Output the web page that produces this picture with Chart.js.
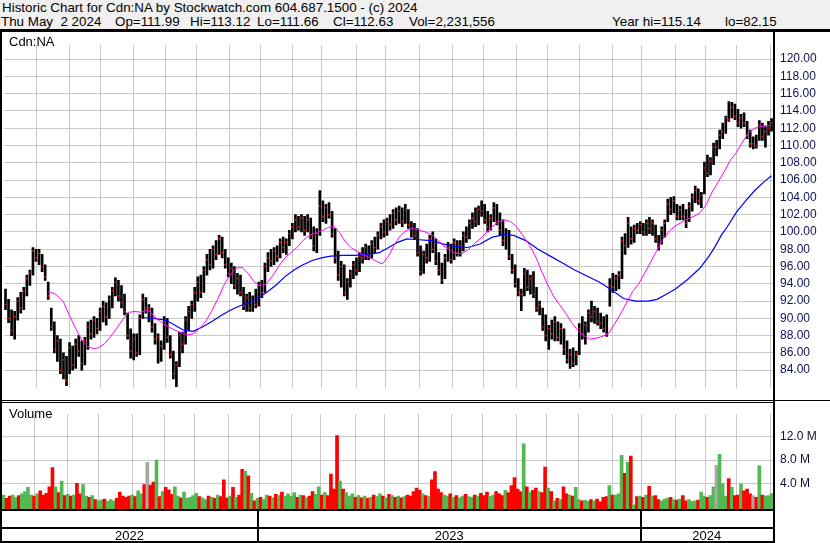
<!DOCTYPE html>
<html>
<head>
<meta charset="utf-8">
<script src="https://cdn.jsdelivr.net/npm/chart.js@4.4.1/dist/chart.umd.min.js"></script>
<style>
body { margin: 0; width: 830px; height: 543px; background: #fff; overflow: hidden; position: relative; font-family: "Liberation Sans", Arial, sans-serif; }
#hdr { position: absolute; left: 0; top: 0; width: 830px; height: 29px; background: #f0f0f0; color: #000; font-size: 13.3px; line-height: 15px; white-space: pre; }
#hdr span { position: absolute; }
#rule { position: absolute; left: 0; top: 29px; width: 830px; height: 3px; background: #000; }
#pc { position: absolute; left: 0; top: 32px; }
#vc { position: absolute; left: 0; top: 401px; }
</style>
</head>
<body>
<div id="hdr">
  <span id="title" style="left:2px;top:0px">Historic Chart for Cdn:NA by Stockwatch.com 604.687.1500 - (c) 2024</span>
  <span style="left:1px;top:14px">Thu May  2 2024</span>
  <span style="left:115px;top:14px">Op=111.99</span>
  <span style="left:190px;top:14px">Hi=113.12</span>
  <span style="left:257px;top:14px">Lo=111.66</span>
  <span style="left:333px;top:14px">Cl=112.63</span>
  <span style="left:409px;top:14px">Vol=2,231,556</span>
  <span style="left:612px;top:14px">Year hi=115.14</span>
  <span style="left:725px;top:14px">lo=82.15</span>
</div>
<div id="rule"></div>
<canvas id="pc" width="830" height="369"></canvas>
<canvas id="vc" width="830" height="142"></canvas>
<script>
// one bar = two trading days, bar i sits on trading day 2*i+1 (day 0 = May 2 2022)
const high = [
  93.4,92.2,91.0,90.8,92.4,93.0,93.6,95.0,95.6,98.2,
  98.0,98.0,97.4,96.2,94.2,91.2,89.6,88.0,87.6,86.0,
  85.6,87.2,86.8,87.6,88.0,87.4,87.8,89.6,89.8,90.2,
  90.0,91.2,92.0,91.8,92.6,93.6,94.7,94.4,93.8,92.8,
  90.6,88.8,88.2,88.2,90.4,92.8,92.4,91.6,91.2,89.4,
  88.2,87.4,90.2,90.0,88.0,86.2,85.0,88.4,88.4,90.2,
  91.4,92.0,93.6,94.8,95.0,96.0,97.4,98.0,98.4,99.0,
  99.6,99.4,98.0,97.0,96.4,96.0,95.2,95.0,93.6,92.8,
  93.0,92.6,93.4,94.2,94.4,96.4,97.6,98.0,98.2,98.4,
  99.2,99.4,99.2,100.2,101.0,102.0,101.8,102.0,101.8,102.0,
  101.6,100.6,100.4,104.8,103.6,103.2,103.4,102.4,100.4,97.8,
  96.6,96.2,94.6,95.6,96.6,97.0,97.6,98.2,98.6,98.4,
  99.0,99.4,100.0,101.0,101.4,101.6,102.0,102.6,102.8,103.0,
  102.8,103.2,102.6,101.2,101.0,100.4,98.4,97.8,98.6,99.6,
  100.0,99.2,97.6,96.4,97.4,98.8,98.6,99.2,99.0,99.0,
  100.0,100.6,101.4,102.2,102.8,103.0,103.6,103.2,102.4,102.0,
  103.4,103.2,102.2,101.4,100.4,100.2,97.4,96.2,94.6,93.4,
  95.8,95.6,95.0,95.4,93.6,92.0,91.2,90.4,89.2,89.8,
  90.2,89.6,89.4,88.8,87.4,86.4,86.6,86.2,89.4,90.2,
  89.6,91.0,92.0,91.4,91.2,90.6,90.2,90.4,94.6,95.2,
  95.0,95.4,99.4,99.8,101.7,100.6,100.8,101.0,101.2,101.0,
  101.4,101.7,101.4,100.8,99.6,100.6,101.4,103.8,104.0,104.1,
  103.2,103.0,103.2,102.6,103.4,104.4,105.3,105.0,104.6,108.1,
  108.9,108.6,110.3,110.6,111.8,112.6,113.4,115.1,115.0,114.8,
  114.2,113.6,113.8,112.8,111.8,111.0,111.2,112.9,112.6,112.2,112.8,113.12
];
const low = [
  91.0,89.5,88.0,87.6,89.8,90.6,91.0,92.6,93.8,95.0,
  96.6,96.2,95.4,94.4,92.2,88.6,86.0,85.0,83.6,83.0,
  82.2,83.6,84.0,84.2,85.6,84.0,84.6,86.4,87.6,87.8,
  88.2,88.6,89.6,89.2,90.0,91.2,92.6,92.0,91.2,90.4,
  87.6,85.4,85.2,85.6,85.8,90.0,90.6,89.6,88.4,87.0,
  84.8,85.0,86.4,87.2,85.4,83.0,82.1,84.4,86.0,87.0,
  88.6,90.0,90.8,92.0,92.4,93.0,95.0,95.6,95.8,96.8,
  97.4,97.0,95.8,94.8,94.0,93.4,92.8,92.6,91.0,90.8,
  90.8,90.8,91.2,91.4,92.4,93.0,95.4,96.0,96.2,96.6,
  97.0,97.6,97.4,98.4,99.2,100.0,100.2,100.0,99.6,100.0,
  99.2,97.8,97.6,99.6,101.2,101.0,101.6,99.4,96.4,94.4,
  93.6,92.6,92.2,93.6,94.6,95.0,95.4,96.4,96.8,96.8,
  97.0,97.6,98.0,99.2,99.4,99.6,100.2,100.4,100.8,101.0,
  100.6,101.0,100.4,99.4,99.2,97.2,95.0,95.2,96.4,96.6,
  97.6,96.2,95.0,94.0,94.6,96.6,96.4,96.8,97.2,97.2,
  97.8,98.8,99.2,100.4,100.6,100.8,101.8,101.0,100.0,100.2,
  101.2,100.8,99.6,98.4,98.0,96.8,95.2,93.6,92.6,90.9,
  92.6,93.2,92.8,92.4,90.8,90.4,88.6,87.4,86.4,87.6,
  87.4,87.4,87.0,85.8,84.8,84.2,84.4,84.6,85.8,87.6,
  87.0,88.4,89.6,89.4,89.2,88.8,88.4,87.9,91.4,93.0,
  93.2,93.4,94.6,97.4,98.2,98.6,98.8,99.8,99.8,99.6,
  99.6,99.8,99.6,98.8,97.9,98.6,99.4,101.2,102.0,102.2,
  101.4,101.4,101.4,100.5,101.2,102.4,103.4,103.2,102.8,104.4,
  106.4,106.6,107.8,108.8,109.6,110.8,111.4,112.8,113.2,113.0,
  112.2,112.0,112.2,110.8,109.8,109.6,109.7,110.6,110.6,109.8,111.2,111.66
];
const close = [
  91.6,90.0,88.6,90.2,92.0,91.2,93.2,94.6,95.2,97.8,
  97.0,97.5,96.0,94.8,92.6,89.0,86.4,87.4,84.0,85.2,
  82.8,86.6,84.6,87.0,86.2,84.8,87.4,89.0,88.2,89.8,
  88.8,90.8,91.4,90.2,92.2,93.2,94.2,92.6,91.8,90.8,
  88.0,86.2,87.6,86.0,90.0,92.2,91.2,91.2,89.0,87.6,
  87.8,86.8,89.6,87.8,85.8,83.6,84.6,88.0,87.0,89.8,
  90.8,91.6,93.0,94.2,93.0,95.6,96.8,96.2,98.0,97.4,
  99.2,97.6,96.2,95.2,95.8,93.8,94.6,93.0,91.4,92.4,
  91.2,92.0,91.6,93.8,93.0,96.0,97.0,96.6,97.8,97.2,
  98.8,98.2,98.8,99.8,100.6,101.4,100.6,101.6,100.2,101.4,
  99.6,98.4,99.8,103.0,101.8,102.8,102.0,99.8,97.0,95.0,
  96.0,93.0,94.2,95.2,96.2,95.6,97.2,97.0,98.2,97.4,
  98.6,98.2,99.6,100.6,100.0,101.2,100.8,102.2,101.4,102.4,
  101.2,102.6,100.8,100.4,99.6,97.6,95.4,97.4,97.0,99.2,
  98.0,96.6,95.6,94.4,97.0,98.2,96.8,98.8,97.6,98.4,
  99.6,99.4,101.0,101.6,101.2,102.6,102.4,101.4,100.6,101.6,
  102.8,101.2,100.2,99.0,99.6,97.2,95.6,94.0,93.0,92.8,
  95.2,93.6,94.6,92.8,91.2,91.6,89.0,88.0,88.8,88.2,
  89.6,87.8,88.8,86.4,85.2,85.8,84.8,85.8,88.8,88.2,
  89.2,90.6,90.2,90.8,89.6,89.4,88.8,88.2,93.8,93.6,
  94.6,95.0,99.0,98.4,101.0,99.2,100.4,100.2,100.8,100.0,
  101.0,100.4,101.0,99.2,98.6,100.2,101.0,103.2,102.6,103.6,
  101.8,102.6,101.8,101.0,103.0,104.0,104.8,103.6,104.2,107.4,
  106.8,108.2,109.8,109.8,111.2,111.6,113.2,113.0,114.4,113.4,
  112.6,113.2,112.6,111.2,110.2,110.2,110.0,112.4,111.0,111.6,112.0,112.63
];
// volume in millions
const volume = [
  2.0,1.4,1.8,2.0,1.6,1.9,2.2,2.6,3.3,2.0,
  1.8,2.2,2.7,2.0,2.3,3.4,6.7,3.4,2.4,4.4,
  1.9,2.1,1.8,2.0,4.0,2.2,3.8,1.8,1.6,1.9,
  1.2,1.0,1.1,1.3,0.9,1.2,1.0,1.4,2.5,1.8,
  1.6,1.8,2.0,1.7,2.7,2.2,3.8,7.6,3.7,4.2,
  8.0,1.7,2.6,3.3,2.9,2.1,3.4,1.8,1.5,2.5,
  1.4,1.6,1.9,2.3,1.7,1.5,1.2,1.8,1.6,1.4,
  2.0,1.7,4.6,1.5,1.8,3.3,1.6,2.0,6.4,6.1,
  5.3,2.3,1.0,1.4,1.6,1.2,2.0,1.8,1.5,2.1,
  1.9,2.5,1.7,2.2,1.8,2.4,1.6,2.0,1.9,1.5,
  1.8,2.6,2.1,3.4,2.0,2.4,1.9,5.6,3.0,12.2,
  4.4,3.0,2.4,1.8,2.2,1.6,1.9,1.5,1.8,1.4,
  1.6,2.0,1.7,2.2,1.8,1.5,2.1,1.9,1.6,1.8,
  1.5,1.7,2.0,1.8,2.6,3.2,2.8,2.2,1.9,1.7,
  4.6,6.0,3.0,2.4,2.0,1.8,2.2,1.6,1.9,1.5,
  1.8,2.1,1.7,1.6,2.0,1.8,2.3,1.9,2.5,1.7,
  2.0,2.6,2.2,1.9,2.8,2.4,3.6,5.0,3.0,2.6,
  10.8,3.4,2.5,2.8,3.2,2.6,2.4,6.8,3.2,2.6,
  1.0,1.4,1.2,3.4,2.2,2.0,1.8,3.3,1.2,1.0,
  1.1,0.9,1.2,1.0,1.3,0.8,1.6,1.7,3.6,2.0,
  2.0,2.2,8.8,5.7,7.6,8.7,0.3,1.7,1.8,1.6,
  2.0,3.5,1.8,1.9,1.2,1.0,1.3,1.4,1.6,1.2,
  1.1,1.3,1.9,1.0,1.2,0.9,1.0,1.1,2.5,1.8,
  1.6,1.9,3.4,7.1,9.0,3.9,1.8,4.8,3.3,1.9,
  2.0,3.9,2.7,3.0,2.2,1.9,1.6,7.0,2.0,1.8,1.9,2.23
];
// moving averages (trading day, value)
const pinkDay = [29,34,39,43,47,51,55,59,62,66,70,74,78,82,86,90,94,97,101,106,110,115,120,124,128,132,136,140,144,148,
  152,156,160,164,168,172,176,180,184,188,192,196,200,204,208,212,216,220,224,228,232,236,240,244,248,252,256,260,264,268,
  272,276,280,284,288,292,296,300,304,308,312,316,320,324,328,332,336,340,344,348,352,356,360,364,368,372,376,380,384,388,
  392,396,400,404,408,412,416,420,424,428,432,436,440,444,448,452,456,460,464,468,472,476,480,484,488,492,496,500,503];
const pinkVal = [93.1,92.8,91.9,90.3,88.8,87.5,86.7,86.5,86.6,87.1,87.9,88.9,89.9,90.7,90.8,90.7,91.0,90.5,89.8,89.2,
  88.8,88.4,88.1,88.2,88.8,89.6,90.8,92.2,93.8,95.0,95.8,95.9,95.2,94.2,93.8,94.0,94.9,96.0,97.0,97.6,
  98.2,99.0,99.6,99.9,100.1,100.5,100.7,99.9,98.8,98.1,97.7,97.3,97.0,96.6,96.3,97.2,98.6,99.6,100.2,100.4,
  100.2,100.0,99.7,99.1,98.4,97.9,97.5,97.5,97.9,98.6,99.2,99.9,100.6,101.1,101.4,101.2,100.6,99.6,98.6,97.3,
  95.6,94.0,92.6,91.6,90.6,89.5,88.6,88.0,87.6,87.7,87.9,88.2,89.3,90.5,91.8,93.1,94.0,95.3,96.6,97.9,
  99.2,100.1,100.7,101.1,101.5,101.8,102.2,103.1,104.6,105.8,107.0,108.3,109.2,110.4,111.5,112.0,112.2,112.3,112.3];
const blueDay = [90,98,106,112,118,124,130,136,142,148,154,160,166,172,178,184,190,196,202,208,
  214,222,230,238,246,252,258,264,272,280,288,296,304,312,320,328,334,342,350,358,
  366,374,382,390,398,406,414,422,428,434,440,448,456,462,466,470,474,480,486,492,498,503];
const blueVal = [90.1,90.0,89.8,89.2,88.6,88.5,89.0,89.6,90.3,90.9,91.4,91.8,92.3,93.0,93.8,94.8,95.6,96.2,96.7,97.0,
  97.2,97.3,97.3,97.4,97.6,98.2,98.8,99.2,99.1,99.0,98.6,98.3,98.2,98.6,99.4,99.7,99.6,99.0,98.0,97.2,
  96.4,95.6,94.9,94.2,93.3,92.3,92.0,92.0,92.2,92.8,93.4,94.5,95.8,97.2,98.3,99.6,100.6,102.3,103.6,104.8,105.8,106.5];

const monthStarts = [21,43,63,85,106,126,148,168,189,208,231,250,272,294,314,336,356,377,399,418,440,460,480,502];
const yearStarts = [0,168,418];
const yearLabels = ['2022','2023','2024'];
const priceTicks = [84,86,88,90,92,94,96,98,100,102,104,106,108,110,112,114,116,118,120];
const volTicks = [4,8,12];

// the title line runs from x=2 to x=418 in the original; size the header font to that
(function fitHeader() {
  const hdr = document.getElementById('hdr');
  const w = document.getElementById('title').getBoundingClientRect().width;
  if (w > 0) hdr.style.fontSize = (13.3 * 416 / w).toFixed(2) + 'px';
})();

const dayOf = i => 2 * i + 1;
const X_MIN = 0.02, X_MAX = 504.6;
const GRID = '#c8c8c8';
Chart.defaults.font.family = '"Liberation Sans", Arial, sans-serif';

const xAxis = () => ({
  type: 'linear', min: X_MIN, max: X_MAX, offset: false,
  grid: { color: GRID, lineWidth: 1, drawTicks: false, offset: false },
  border: { display: false },
  ticks: { display: false },
  afterBuildTicks: s => { s.ticks = monthStarts.map(v => ({ value: v })); },
  afterFit: s => { s.height = 0; }
});

const priceFrame = {
  id: 'priceFrame',
  afterDraw(chart) {
    const c = chart.ctx, h = chart.height;
    c.save();
    c.fillStyle = '#000';
    c.fillRect(0, 0, 2, h);
    c.fillRect(773, 0, 2, h);
    c.fillRect(0, 368, 830, 1);
    c.font = '13px "Liberation Sans", Arial, sans-serif';
    c.textBaseline = 'alphabetic';
    c.fillText('Cdn:NA', 9, 13.5);
    c.restore();
  }
};

new Chart(document.getElementById('pc'), {
  type: 'bar',
  data: {
    datasets: [
      { type: 'line', data: pinkDay.map((d, i) => ({ x: d, y: pinkVal[i] })), borderColor: '#ff00ff', borderWidth: 1, pointRadius: 0, order: 1 },
      { type: 'line', data: blueDay.map((d, i) => ({ x: d, y: blueVal[i] })), borderColor: '#0000ff', borderWidth: 1.2, pointRadius: 0, order: 2 },
      { type: 'scatter', data: close.map((v, i) => ({ x: dayOf(i), y: v })), pointStyle: 'rect', pointRadius: 1.1, backgroundColor: '#ff0000', borderWidth: 0, order: 3 },
      { type: 'bar', data: high.map((v, i) => ({ x: dayOf(i), y: [low[i], v] })), backgroundColor: '#000', barThickness: 2, order: 4 }
    ]
  },
  options: {
    responsive: false, animation: false, events: [],
    layout: { padding: { left: 2, right: 0, top: 0, bottom: 1 } },
    plugins: { legend: { display: false }, tooltip: { enabled: false } },
    scales: {
      x: xAxis(),
      y: {
        position: 'right', min: 81.961, max: 121.616,
        grid: { color: GRID, lineWidth: 1, drawTicks: false },
        border: { display: false },
        ticks: { padding: 6, color: '#10105a', font: { size: 12 }, callback: v => v.toFixed(2) },
        afterBuildTicks: s => { s.ticks = priceTicks.map(v => ({ value: v })); },
        afterFit: s => { s.width = 56; }
      }
    }
  },
  plugins: [priceFrame]
});

const volColors = close.map((v, i) => i === 0 ? '#52b852' : (v > close[i - 1] ? '#52b852' : (v < close[i - 1] ? '#ff0000' : '#a8a8a8')));
const V_MIN = -0.415;

const volFrame = {
  id: 'volFrame',
  afterDraw(chart) {
    const c = chart.ctx, h = chart.height, xs = chart.scales.x, area = chart.chartArea;
    c.save();
    c.fillStyle = '#000';
    c.fillRect(0, 1, 775, 1);
    c.fillRect(0, 0, 2, h);
    c.fillRect(773, 0, 2, h);
    c.fillRect(0, 108, 775, 2);
    c.fillRect(0, 126, 775, 2);
    c.fillRect(0, 140, 775, 2);
    const edges = yearStarts.map((d, i) => i === 0 ? area.left : xs.getPixelForValue(d));
    edges.push(area.right);
    c.font = '13px "Liberation Sans", Arial, sans-serif';
    c.textAlign = 'center';
    for (let i = 0; i < yearLabels.length; i++) {
      if (i > 0) c.fillRect(Math.round(edges[i]) - 2, 110, 2, 30);
      c.fillText(yearLabels[i], (edges[i] + edges[i + 1]) / 2 - 1, 139);
    }
    c.textAlign = 'left';
    c.fillText('Volume', 9, 17);
    c.restore();
  }
};

new Chart(document.getElementById('vc'), {
  type: 'bar',
  data: {
    datasets: [{
      data: volume.map((v, i) => ({ x: dayOf(i), y: v })),
      backgroundColor: volColors, barThickness: 3, base: V_MIN
    }]
  },
  options: {
    responsive: false, animation: false, events: [],
    layout: { padding: { left: 2, right: 0, top: 2, bottom: 34 } },
    plugins: { legend: { display: false }, tooltip: { enabled: false } },
    scales: {
      x: xAxis(),
      y: {
        position: 'right', min: V_MIN, max: 15.89,
        grid: { color: GRID, lineWidth: 1, drawTicks: false },
        border: { display: false },
        ticks: { padding: 6, color: '#101030', font: { size: 12 }, callback: v => v.toFixed(1) + ' M' },
        afterBuildTicks: s => { s.ticks = volTicks.map(v => ({ value: v })); },
        afterFit: s => { s.width = 56; }
      }
    }
  },
  plugins: [volFrame]
});
</script>
</body>
</html>
